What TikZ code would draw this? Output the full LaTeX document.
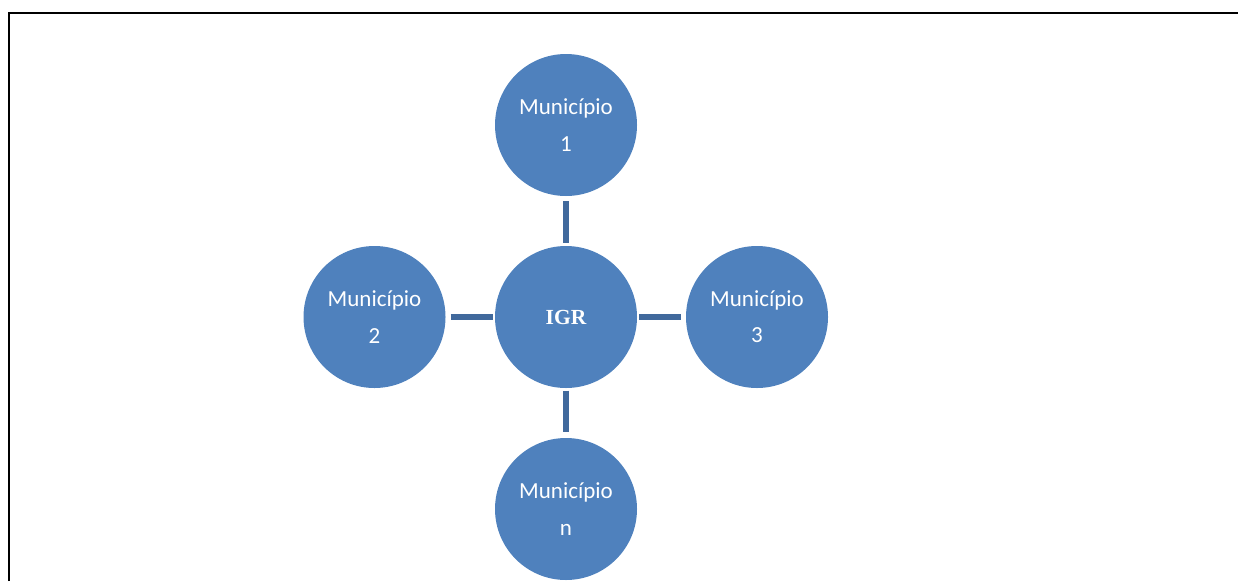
\documentclass[tikz,border=0pt]{standalone}
\usepackage{fontspec}
\setmainfont{Carlito}
\newfontfamily\igrfont{Liberation Serif}
\definecolor{munfill}{HTML}{4F81BD}
\definecolor{linkcol}{HTML}{41699C}
\begin{document}
\begin{tikzpicture}[x=1pt,y=-1pt,
  muni/.style={circle,fill=munfill,draw=none,minimum size=142pt,inner sep=0pt,
    text=white,align=center,font=\fontsize{23}{36.3}\selectfont},
  hub/.style={muni,font=\igrfont\bfseries\fontsize{21.5}{24}\selectfont},
  link/.style={draw=linkcol,line width=6pt}]
\useasboundingbox (0,0) rectangle (1238,581);
% frame edges
\draw[line width=2pt] (9,581) -- (9,13) -- (1238,13);
% hub and municipalities
\node[hub]  (igr) at (566,317) {IGR};
\node[muni] (m1)  at (566,125) {Município\\1};
\node[muni] (m2)  at (374.5,317) {Município\\2};
\node[muni] (m3)  at (757,317) {Município\\3};
\node[muni] (mn)  at (566,509) {Município\\n};
% links
\draw[link,shorten <=5pt,shorten >=2.5pt] (m1) -- (igr);
\draw[link,shorten <=5pt,shorten >=2pt] (m2) -- (igr);
\draw[link,shorten <=2pt,shorten >=5pt] (igr) -- (m3);
\draw[link,shorten <=2.5pt,shorten >=5.5pt] (igr) -- (mn);
\end{tikzpicture}
\end{document}
